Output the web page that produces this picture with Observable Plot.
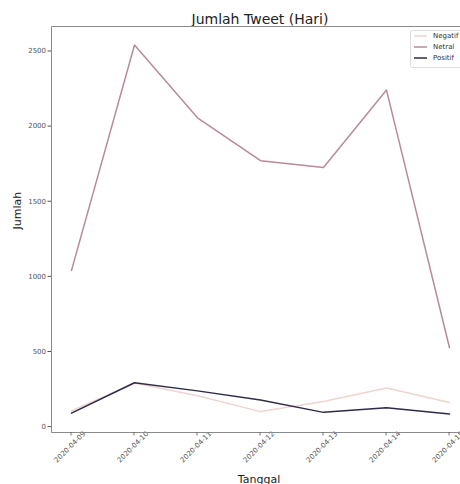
<!DOCTYPE html>
<html><head><meta charset="utf-8">
<script src="https://cdn.jsdelivr.net/npm/d3@7"></script>
<script src="https://cdn.jsdelivr.net/npm/@observablehq/plot@0.6"></script>
<style>
body{margin:0;background:#fff;overflow:hidden;font-family:"DejaVu Sans",sans-serif}
#chart{position:relative;width:460px;height:484px;overflow:hidden}
</style></head><body><div id="chart"></div>
<script>
const dates = ["2020-04-09","2020-04-10","2020-04-11","2020-04-12","2020-04-13","2020-04-14","2020-04-15"];
const series = ["Negatif","Netral","Positif"];
const colors = ["#f0d4d0","#b98a9c","#2e2a48"];
const negatif = [105, 290, 205, 100, 168, 257, 161];
const netral = [1040, 2540, 2055, 1770, 1725, 2240, 525];
const positif = [90, 292, 238, 178, 95, 126, 84];
const yTicks = [0, 500, 1000, 1500, 2000, 2500];
const title = "Jumlah Tweet (Hari)";
const xLabel = "Tanggal";
const yLabel = "Jumlah";

const values = [negatif, netral, positif];
const rows = series.map((s, i) => dates.map((d, j) => ({date: d, value: values[i][j], series: s})));

const plot = Plot.plot({
  width: 460, height: 484,
  marginLeft: 51, marginRight: 0, marginTop: 26, marginBottom: 52,
  style: {fontFamily: "DejaVu Sans, sans-serif", background: "#fff", overflow: "visible"},
  x: {type: "point", domain: dates, range: [70, 449], padding: 0, axis: null},
  y: {domain: [-39, 2663], axis: null},
  marks: [
    ...rows.map((r, i) => Plot.line(r, {x: "date", y: "value", stroke: colors[i], strokeWidth: 1.5})),
    Plot.axisY(yTicks, {anchor: "left", tickSize: 3.5, tickPadding: 2, fontSize: 7, color: "#555", stroke: "#555", tickFormat: d => String(d), label: null}),
    Plot.text(dates, {x: d => d, frameAnchor: "bottom", dy: 16, rotate: -45, textAnchor: "middle", fontSize: 7, fill: "#555"}),
    Plot.text([title], {frameAnchor: "top", lineAnchor: "bottom", dx: 4, dy: -3, fontSize: 14, fill: "#222"}),
    Plot.text([xLabel], {frameAnchor: "bottom", lineAnchor: "bottom", dx: 3, dy: 50, fontSize: 11, fill: "#222"}),
    Plot.text([yLabel], {frameAnchor: "left", dx: -34, dy: 0, rotate: -90, fontSize: 11, fill: "#222"})
  ]
});
document.getElementById("chart").appendChild(plot);

const svg = d3.select(plot);
const xs = plot.scale("x");
// spines (left, top, bottom; right is beyond the window)
const sp = svg.append("g").attr("stroke", "#8a8a8a").attr("stroke-width", 1).attr("fill", "none");
sp.append("path").attr("d", "M470,26.5H51.5V432.5H470");
// bottom ticks
const tickG = svg.append("g");
dates.forEach(d => {
  const px = xs.apply(d);
  tickG.append("line").attr("x1", px).attr("x2", px).attr("y1", 432).attr("y2", 435.5).attr("stroke", "#555").attr("stroke-width", 0.8);
});

// legend
const lg = svg.append("g").attr("transform", "translate(410,30)");
lg.append("rect").attr("x", 0.5).attr("y", 0.5).attr("width", 60).attr("height", 37).attr("rx", 2)
  .attr("fill", "#fff").attr("fill-opacity", 0.85).attr("stroke", "#ddd");
series.forEach((s, i) => {
  const y = 6 + i * 11;
  lg.append("line").attr("x1", 4).attr("x2", 17).attr("y1", y).attr("y2", y).attr("stroke", colors[i]).attr("stroke-width", 1.5);
  lg.append("text").attr("x", 23).attr("y", y).attr("dy", "0.35em").attr("text-anchor", "start").attr("font-size", 7).attr("fill", "#333").text(s);
});
</script></body></html>
